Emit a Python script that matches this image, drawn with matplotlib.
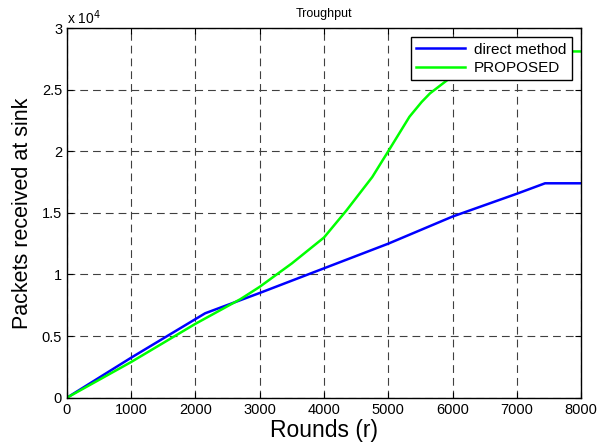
import numpy as np
import matplotlib.pyplot as plt

plt.rcParams['font.family'] = ['Liberation Sans', 'DejaVu Sans']

# rounds / packets
direct_x = [0, 1000, 2150, 3000, 4000, 5000, 6000, 7000, 7440, 8000]
direct_y = [0, 3250, 6850, 8500, 10500, 12500, 14700, 16550, 17400, 17400]

prop_x = [0, 1000, 2000, 2700, 3000, 3500, 4000, 4350, 4750, 5000, 5330, 5520, 5650, 5800, 6100, 6500, 7000, 8000]
prop_y = [0, 2900, 6000, 8000, 9000, 10900, 13000, 15200, 17900, 20000, 22800, 24000, 24700, 25300, 26500, 27600, 28100, 28100]

yticks = [0, 5000, 10000, 15000, 20000, 25000, 30000]
ylabels = ['0', '0.5', '1', '1.5', '2', '2.5', '3']
xticks = [0, 1000, 2000, 3000, 4000, 5000, 6000, 7000, 8000]

fig = plt.figure(figsize=(5.98, 4.45), dpi=100)
ax = fig.add_axes([0.112, 0.1063, 0.8596, 0.8307])

ax.plot(direct_x, direct_y, color='#0000ff', lw=1.8, label='direct method')
ax.plot(prop_x, prop_y, color='#00ff00', lw=1.8, label='PROPOSED')

ax.set_xlim(0, 8000)
ax.set_ylim(0, 30000)
ax.set_xticks(xticks)
ax.set_yticks(yticks)
ax.set_yticklabels(ylabels)
ax.tick_params(direction='in', top=True, right=True, labelsize=10.5, length=4, width=0.8)
ax.grid(True, color='#404040', linestyle=(0, (7, 4.5)), lw=0.8)
for s in ax.spines.values():
    s.set_linewidth(1.0)

ax.set_xlabel('Rounds (r)', fontsize=16.5, labelpad=2)
ax.set_ylabel('Packets received at sink', fontsize=15.5, labelpad=6)
ax.set_title('Troughput', fontsize=9, pad=8)
ax.text(0.0, 1.004, r'x 10$^4$', transform=ax.transAxes, fontsize=10, ha='left', va='bottom')

leg = ax.legend(loc='upper right', fontsize=11, fancybox=False, framealpha=1,
                edgecolor='black', borderaxespad=0.6, handlelength=3.2,
                labelspacing=0.3, borderpad=0.35, handletextpad=0.6)
leg.get_frame().set_linewidth(1.0)

fig.savefig('out.png', dpi=100)
